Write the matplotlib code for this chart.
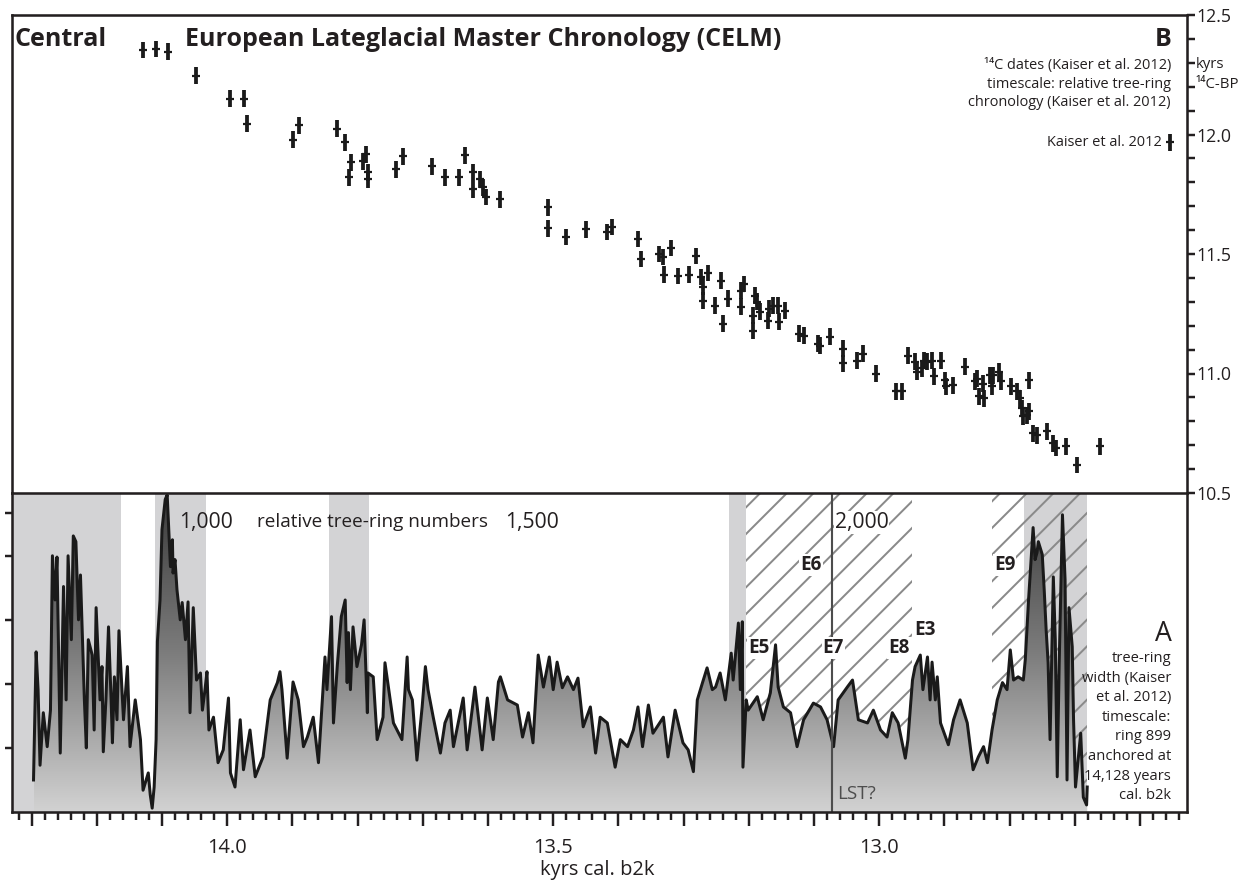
import numpy as np
import matplotlib
matplotlib.use('Agg')
import matplotlib.pyplot as plt
from matplotlib.ticker import MultipleLocator, FuncFormatter, FixedLocator, NullFormatter
from matplotlib.colors import LinearSegmentedColormap

plt.rcParams['font.family'] = ['Open Sans', 'DejaVu Sans']
plt.rcParams['hatch.linewidth'] = 1.8

# ---- panel B: 14C dates on the relative tree-ring timescale (kyr) ----
c14_age = [14.129, 14.109, 14.090, 14.048, 13.995, 13.974, 13.969, 13.899, 13.890, 13.831,
           13.819, 13.810, 13.813, 13.791, 13.787, 13.784, 13.784, 13.741, 13.730, 13.686,
           13.666, 13.644, 13.635, 13.623, 13.623, 13.613, 13.607, 13.603, 13.581, 13.508,
           13.508, 13.480, 13.449, 13.417, 13.410, 13.370, 13.365, 13.337, 13.331, 13.319,
           13.330, 13.308, 13.291, 13.281, 13.273, 13.271, 13.270, 13.262, 13.252, 13.242,
           13.239, 13.232, 13.212, 13.212, 13.207, 13.193, 13.193, 13.190, 13.187, 13.183,
           13.170, 13.169, 13.163, 13.156, 13.153, 13.144, 13.123, 13.115, 13.094, 13.091,
           13.075, 13.055, 13.055, 13.034, 13.025, 13.005, 12.974, 12.965, 12.956, 12.945,
           12.942, 12.934, 12.931, 12.926, 12.919, 12.916, 12.905, 12.899, 12.897, 12.887,
           12.868, 12.853, 12.850, 12.847, 12.841, 12.839, 12.830, 12.827, 12.825, 12.816,
           12.814, 12.798, 12.788, 12.784, 12.781, 12.779, 12.773, 12.770, 12.770, 12.764,
           12.758, 12.742, 12.733, 12.729, 12.713, 12.696, 12.661]
c14_bp = [12.354, 12.358, 12.346, 12.246, 12.150, 12.150, 12.046, 11.979, 12.038, 12.025,
          11.967, 11.883, 11.821, 11.888, 11.917, 11.842, 11.813, 11.854, 11.908, 11.867,
          11.821, 11.821, 11.913, 11.842, 11.771, 11.813, 11.779, 11.738, 11.729, 11.696,
          11.608, 11.571, 11.604, 11.592, 11.613, 11.563, 11.479, 11.500, 11.488, 11.525,
          11.413, 11.408, 11.413, 11.492, 11.404, 11.363, 11.304, 11.421, 11.283, 11.388,
          11.208, 11.313, 11.346, 11.279, 11.375, 11.242, 11.179, 11.325, 11.300, 11.258,
          11.221, 11.271, 11.283, 11.283, 11.217, 11.263, 11.167, 11.158, 11.125, 11.117,
          11.154, 11.104, 11.042, 11.054, 11.083, 11.000, 10.925, 10.925, 11.075, 11.050,
          11.008, 11.021, 11.054, 11.050, 11.054, 10.988, 11.054, 10.971, 10.946, 10.950,
          11.029, 10.967, 10.979, 10.904, 10.958, 10.896, 10.992, 10.946, 10.992, 11.008,
          10.967, 10.946, 10.925, 10.896, 10.854, 10.821, 10.825, 10.842, 10.971, 10.750,
          10.742, 10.758, 10.708, 10.688, 10.696, 10.617, 10.696]
c14_err = 0.035

# ---- panel A: tree-ring width of the CELM (relative ring number) ----
ring = [730, 734, 737, 740, 745, 751, 756, 759, 763, 766, 771, 776, 780, 783, 788, 791, 795, 799,
        802, 808, 811, 814, 820, 823, 826, 832, 835, 837, 841, 845, 849, 851, 854, 858, 861, 868,
        874, 878, 886, 894, 898, 906, 909, 912, 915, 918, 920, 924, 927, 932, 935, 940, 943, 944,
        947, 950, 955, 958, 963, 967, 970, 975, 980, 986, 989, 993, 996, 999, 1006, 1013, 1021,
        1029, 1032, 1039, 1047, 1052, 1062, 1070, 1082, 1093, 1104, 1108, 1111, 1119, 1128, 1136,
        1144, 1150, 1159, 1167, 1173, 1177, 1180, 1187, 1190, 1196, 1202, 1208, 1211, 1213, 1216,
        1220, 1226, 1233, 1237, 1242, 1243, 1251, 1257, 1266, 1269, 1282, 1295, 1303, 1305, 1311,
        1318, 1326, 1331, 1335, 1343, 1354, 1361, 1369, 1374, 1389, 1395, 1407, 1418, 1426, 1435,
        1443, 1446, 1457, 1472, 1480, 1489, 1496, 1504, 1512, 1521, 1527, 1533, 1541, 1549, 1558,
        1565, 1573, 1584, 1592, 1599, 1610, 1622, 1630, 1641, 1650, 1657, 1664, 1673, 1680, 1696,
        1703, 1714, 1726, 1734, 1742, 1748, 1756, 1763, 1771, 1776, 1783, 1791, 1800, 1803, 1811,
        1814, 1817, 1818, 1823, 1826, 1840, 1849, 1860, 1868, 1872, 1880, 1891, 1901, 1911, 1926,
        1937, 1947, 1957, 1964, 1978, 1986, 1995, 2009, 2018, 2029, 2039, 2047, 2056, 2067, 2071,
        2078, 2082, 2090, 2094, 2101, 2105, 2108, 2113, 2116, 2121, 2133, 2141, 2151, 2162, 2171,
        2179, 2187, 2193, 2200, 2208, 2216, 2223, 2228, 2233, 2240, 2248, 2251, 2256, 2263, 2266,
        2269, 2271, 2277, 2280, 2283, 2286, 2289, 2294, 2297, 2300, 2303, 2308, 2312, 2315, 2318,
        2323, 2325, 2328, 2336, 2340, 2345, 2346]
ring_width = [0.50, 2.50, 1.91, 0.73, 1.55, 1.02, 1.59, 4.00, 3.31, 3.98, 0.92, 3.52, 1.75, 4.00,
              2.69, 4.31, 4.22, 3.00, 3.70, 1.75, 1.00, 2.69, 2.45, 1.28, 3.19, 1.75, 2.27, 0.94,
              1.75, 2.89, 1.75, 1.08, 2.11, 1.44, 2.83, 1.44, 2.27, 1.02, 1.75, 1.13, 0.34, 0.61,
              0.27, 0.06, 0.39, 1.13, 2.66, 3.31, 4.41, 4.88, 4.95, 3.83, 4.25, 3.73, 3.94, 3.47,
              3.00, 3.27, 2.69, 3.28, 1.55, 3.19, 2.06, 2.17, 1.59, 1.91, 2.19, 1.28, 1.48, 0.77,
              0.97, 1.78, 0.61, 0.39, 1.44, 0.66, 1.28, 0.55, 0.86, 1.75, 2.02, 2.19, 1.91, 0.84,
              2.03, 1.75, 1.02, 1.17, 1.48, 0.77, 1.75, 2.42, 1.91, 3.05, 1.39, 2.30, 3.05, 3.31,
              2.02, 2.80, 1.91, 2.89, 2.27, 2.61, 3.00, 1.55, 2.17, 2.11, 1.13, 1.48, 2.33, 1.39,
              1.13, 2.42, 1.91, 1.75, 0.81, 1.64, 2.27, 1.91, 1.48, 0.92, 1.39, 1.59, 1.02, 1.78,
              0.97, 1.95, 0.97, 1.78, 1.13, 2.03, 2.11, 1.75, 1.67, 1.17, 1.55, 1.08, 2.45, 1.95,
              2.42, 1.91, 2.34, 1.94, 2.11, 1.91, 2.09, 1.33, 1.64, 0.92, 1.48, 1.39, 0.70, 1.13,
              1.02, 1.28, 1.64, 1.02, 1.67, 1.23, 1.48, 0.86, 1.59, 1.08, 0.97, 0.63, 1.75, 2.02,
              2.25, 1.91, 1.95, 2.17, 1.75, 2.48, 2.06, 2.95, 1.91, 2.97, 0.70, 1.75, 1.59, 1.80,
              1.44, 1.86, 2.61, 1.95, 1.64, 1.55, 1.02, 1.44, 1.70, 1.64, 1.44, 1.02, 1.75, 1.95,
              2.06, 1.44, 1.39, 1.59, 1.28, 1.17, 1.55, 1.39, 0.84, 1.13, 2.06, 2.27, 2.45, 1.91,
              2.42, 1.75, 2.34, 1.75, 2.11, 1.39, 1.05, 1.44, 1.75, 1.39, 0.66, 0.86, 1.02, 0.77,
              1.28, 1.75, 2.02, 1.91, 2.53, 2.06, 2.11, 2.06, 2.38, 3.31, 4.44, 3.94, 4.05, 4.22,
              4.02, 3.47, 2.84, 2.33, 1.13, 3.67, 2.69, 0.55, 2.33, 4.64, 3.63, 0.50, 3.19, 2.58,
              1.44, 0.39, 1.23, 0.23, 0.11, 0.39]

ANCHOR_RING = 899
ANCHOR_KYR = 14.128

# shaded intervals (kyr cal. b2k)
grey_bands = [(14.34, 14.163), (14.110, 14.032), (13.844, 13.782), (13.230, 13.204), (12.778, 12.681)]
hatched_bands = [(13.204, 12.949), (12.827, 12.681)]
lst_kyr = 13.072
events = [('E5', 13.201, 2.56), ('E6', 13.121, 3.85), ('E7', 13.087, 2.56),
          ('E8', 12.986, 2.56), ('E3', 12.946, 2.84), ('E9', 12.824, 3.85)]
width_ticks = [1, 2, 3, 4, 4.67]


def ring_to_kyr(r):
    return ANCHOR_KYR - (np.asarray(r, dtype=float) - ANCHOR_RING) / 1000.0


DPI = 80
W, H = 1249, 883
fig = plt.figure(figsize=(W / DPI, H / DPI), dpi=DPI)


def box(l, t, r, b):
    return [l / W, 1 - b / H, (r - l) / W, (b - t) / H]


def fxy(px, py):
    return px / W, 1 - py / H


XLIM = (14.330, 12.528)
axB = fig.add_axes(box(12, 15, 1187, 493))
axA = fig.add_axes(box(12, 493, 1187, 812))
ink = '#231f20'
lw_sp = 2.3

# ---------------- panel B ----------------
axB.errorbar(c14_age, c14_bp, yerr=c14_err, fmt='_', color='#1a1a1a', ms=7, mew=2,
             elinewidth=3.4, capsize=0, zorder=3)
axB.errorbar([12.554], [11.967], yerr=c14_err, fmt='_', color='#1a1a1a', ms=7, mew=2,
             elinewidth=3.4, capsize=0, zorder=3, clip_on=False)
axB.set_xlim(*XLIM)
axB.set_ylim(10.5, 12.5)
for s in ['top', 'left', 'right', 'bottom']:
    axB.spines[s].set_color(ink)
    axB.spines[s].set_linewidth(lw_sp)
axB.spines['bottom'].set_visible(False)
axB.yaxis.tick_right()
axB.yaxis.set_major_locator(MultipleLocator(0.5))
axB.yaxis.set_minor_locator(MultipleLocator(0.1))
axB.yaxis.set_major_formatter(FuncFormatter(lambda v, p: f'{v:.1f}'))
axB.tick_params(axis='y', which='both', direction='out', length=7.5, width=2.2,
                color=ink, labelsize=16, pad=1, labelcolor=ink)
axB.xaxis.set_major_locator(MultipleLocator(0.1))
axB.xaxis.set_minor_locator(MultipleLocator(0.02))
axB.tick_params(axis='x', which='both', bottom=True, top=False, direction='out',
                labelbottom=False, color=ink, width=2.2)
axB.tick_params(axis='x', which='major', length=11.5)
axB.tick_params(axis='x', which='minor', length=6.3)

# ---------------- panel A ----------------
t_ring = ring_to_kyr(ring)
rw = np.asarray(ring_width)
for a, b in grey_bands:
    axA.axvspan(a, b, facecolor='#d3d3d5', edgecolor='none', zorder=0.5)
for a, b in hatched_bands:
    axA.axvspan(a, b, facecolor='none', edgecolor='#8a8a8a', hatch='/', lw=0, zorder=1)

poly = axA.fill_between(t_ring, 0, rw, facecolor='none', edgecolor='none', zorder=2)
cmap = LinearSegmentedColormap.from_list('rw', ['#d2d2d2', '#7c7c7c', '#3a3a3a'])
grad = np.linspace(0, 1, 256).reshape(-1, 1)
im = axA.imshow(grad, extent=[t_ring.max(), t_ring.min(), 0, 4.98], origin='lower',
                aspect='auto', cmap=cmap, zorder=2)
im.set_clip_path(poly.get_paths()[0], transform=axA.transData)
axA.plot(t_ring, rw, color='#1a1a1a', lw=2.7, zorder=3)
axA.axvline(lst_kyr, color='#4d4d4d', lw=1.9, zorder=3.5)

axA.set_xlim(*XLIM)
axA.set_ylim(0, 4.98)
for s in ['top', 'left', 'right', 'bottom']:
    axA.spines[s].set_color(ink)
    axA.spines[s].set_linewidth(lw_sp)
    axA.spines[s].set_zorder(6)
axA.xaxis.set_major_locator(MultipleLocator(0.1))
axA.xaxis.set_minor_locator(MultipleLocator(0.02))
axA.xaxis.set_major_formatter(FuncFormatter(
    lambda v, p: f'{v:.1f}' if abs(v * 2 - round(v * 2)) < 1e-6 else ''))
axA.tick_params(axis='x', which='both', direction='out', color=ink, width=2.2,
                labelsize=18, pad=11, labelcolor=ink)
axA.tick_params(axis='x', which='major', length=12.6)
axA.tick_params(axis='x', which='minor', length=7.2)
axA.yaxis.set_major_locator(FixedLocator(width_ticks))
axA.yaxis.set_major_formatter(NullFormatter())
axA.tick_params(axis='y', which='both', direction='out', length=6.3, width=2.2, color=ink)

# ring number labels
ty = 4.52
axA.text(ring_to_kyr(995), ty, '1,000', ha='center', va='center', fontsize=19, color=ink, zorder=5)
axA.text(ring_to_kyr(1250), ty, 'relative tree-ring numbers', ha='center', va='center',
         fontsize=17, color=ink, zorder=5)
axA.text(ring_to_kyr(1495), ty, '1,500', ha='center', va='center', fontsize=19, color=ink, zorder=5)
axA.text(ring_to_kyr(2000), ty, '2,000', ha='center', va='center', fontsize=19, color=ink, zorder=5,
         bbox=dict(facecolor='white', edgecolor='none', pad=0.5))

for name, x, y in events:
    axA.text(x, y, name, ha='left', va='center', fontsize=17, fontweight='bold', color=ink,
             zorder=5, bbox=dict(facecolor='white', edgecolor='none', pad=0.8))
axA.text(lst_kyr - 0.007, 0.28, 'LST?', ha='left', va='center', fontsize=17, color='#4d4d4d', zorder=5)

# right block in panel A
fig.text(*fxy(1172, 634), 'A', ha='right', va='center', fontsize=24, color=ink)
block_a = ['tree-ring', 'width (Kaiser', 'et al. 2012)', 'timescale:', 'ring 899',
           'anchored at', '14,128 years', 'cal. b2k']
for i, line in enumerate(block_a):
    fig.text(*fxy(1171, 659 + i * 19.5), line, ha='right', va='center', fontsize=13.3,
             color=ink, zorder=6)

# panel B texts
fig.text(*fxy(15, 40), 'Central', ha='left', va='center', fontsize=22.5, fontweight='bold', color=ink)
fig.text(*fxy(185, 40), 'European Lateglacial Master Chronology (CELM)', ha='left', va='center',
         fontsize=22.5, fontweight='bold', color=ink)
fig.text(*fxy(1172, 40), 'B', ha='right', va='center', fontsize=22.5, fontweight='bold', color=ink)
block_b = ['¹⁴C dates (Kaiser et al. 2012)', 'timescale: relative tree-ring',
           'chronology (Kaiser et al. 2012)']
for i, line in enumerate(block_b):
    fig.text(*fxy(1171, 65 + i * 19), line, ha='right', va='center', fontsize=13, color=ink)
fig.text(*fxy(1162, 143), 'Kaiser et al. 2012', ha='right', va='center', fontsize=13, color=ink)
fig.text(*fxy(1196, 64), 'kyrs', ha='left', va='center', fontsize=13.5, color=ink)
fig.text(*fxy(1196, 84), '¹⁴C-BP', ha='left', va='center', fontsize=13.5, color=ink)

fig.text(*fxy(597, 870), 'kyrs cal. b2k', ha='center', va='center', fontsize=18, color=ink)

fig.savefig('out.png', dpi=DPI)
